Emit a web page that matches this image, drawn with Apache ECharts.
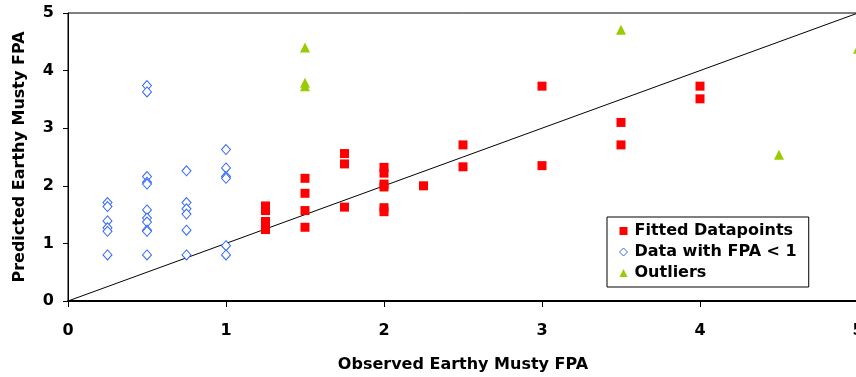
<!DOCTYPE html>
<html>
<head>
<meta charset="utf-8">
<script src="https://cdn.jsdelivr.net/npm/echarts@6/dist/echarts.min.js"></script>
<style>
  html, body { margin: 0; padding: 0; background: #ffffff; }
  #chart { width: 856px; height: 377px; }
</style>
</head>
<body>
<div id="chart"></div>
<script>
// observed / predicted pairs
const fittedX = [1.25, 1.25, 1.25, 1.25, 1.5, 1.5, 1.5, 1.5, 1.75, 1.75, 1.75,
  2, 2, 2, 2, 2, 2, 2.25, 2.5, 2.5, 3, 3, 3.5, 3.5, 4, 4];
const fittedY = [1.65, 1.57, 1.38, 1.24, 2.13, 1.87, 1.57, 1.28, 2.56, 2.38, 1.63,
  2.32, 2.22, 2.03, 1.98, 1.62, 1.55, 2.0, 2.71, 2.33, 3.73, 2.35, 3.10, 2.71, 3.73, 3.51];

const lowX = [0.25, 0.25, 0.25, 0.25, 0.25, 0.25,
  0.5, 0.5, 0.5, 0.5, 0.5, 0.5, 0.5, 0.5, 0.5, 0.5, 0.5,
  0.75, 0.75, 0.75, 0.75, 0.75, 0.75,
  1, 1, 1, 1, 1, 1];
const lowY = [1.71, 1.64, 1.39, 1.27, 1.21, 0.80,
  3.74, 3.63, 2.16, 2.06, 2.03, 1.58, 1.44, 1.37, 1.23, 1.21, 0.80,
  2.26, 1.71, 1.60, 1.51, 1.23, 0.80,
  2.63, 2.31, 2.16, 2.13, 0.96, 0.80];

const outlierX = [1.5, 1.5, 1.5, 3.5, 4.5, 5];
const outlierY = [4.40, 3.79, 3.73, 4.71, 2.54, 4.38];

const diagX = [0, 5];
const diagY = [0, 5];

const FONT = 'DejaVu Sans';
const zip = (xs, ys) => xs.map((x, i) => [x, ys[i]]);

const chart = echarts.init(document.getElementById('chart'));

chart.setOption({
  animation: false,
  backgroundColor: '#ffffff',
  grid: {
    left: 68,
    right: -2,
    top: 13,
    bottom: 76,
    containLabel: false,
    outerBoundsMode: 'none',
    show: true,
    borderColor: '#000000',
    borderWidth: 1,
    backgroundColor: 'transparent',
  },
  legend: {
    orient: 'vertical',
    left: 607,
    top: 217,
    padding: [6, 12, 6, 12],
    itemGap: 5,
    itemWidth: 8,
    itemHeight: 8,
    backgroundColor: '#ffffff',
    borderColor: '#000000',
    borderWidth: 1,
    borderRadius: 0,
    textStyle: {
      fontFamily: FONT,
      fontWeight: 'bold',
      fontSize: 16,
      color: '#000000',
      padding: [0, 0, 0, 2],
    },
    data: [
      { name: 'Fitted Datapoints', icon: 'rect' },
      {
        name: 'Data with FPA < 1',
        icon: 'diamond',
        itemStyle: { color: '#ffffff', borderColor: '#3366ff', borderWidth: 1 },
      },
      { name: 'Outliers', icon: 'triangle' },
    ],
  },
  xAxis: {
    type: 'value',
    min: 0,
    max: 5,
    interval: 1,
    name: 'Observed Earthy Musty FPA',
    nameLocation: 'middle',
    nameGap: 56,
    nameTextStyle: { fontFamily: FONT, fontWeight: 'bold', fontSize: 16, color: '#000000' },
    axisLine: { show: true, onZero: false, lineStyle: { color: '#000000', width: 2 } },
    axisTick: { show: true, inside: false, length: 6, lineStyle: { color: '#000000' } },
    axisLabel: {
      margin: 22,
      fontFamily: FONT,
      fontWeight: 'bold',
      fontSize: 16,
      color: '#000000',
      showMaxLabel: true,
    },
    splitLine: { show: false },
  },
  yAxis: {
    type: 'value',
    min: 0,
    max: 5,
    interval: 1,
    name: 'Predicted Earthy Musty FPA',
    nameLocation: 'middle',
    nameGap: 40,
    nameRotate: 90,
    nameTextStyle: { fontFamily: FONT, fontWeight: 'bold', fontSize: 16, color: '#000000' },
    axisLine: { show: true, onZero: false, lineStyle: { color: '#000000', width: 1 } },
    axisTick: { show: true, inside: false, length: 5, lineStyle: { color: '#000000' } },
    axisLabel: {
      margin: 14,
      fontFamily: FONT,
      fontWeight: 'bold',
      fontSize: 16,
      color: '#000000',
    },
    splitLine: { show: false },
  },
  series: [
    {
      name: 'diagonal',
      type: 'line',
      data: zip(diagX, diagY),
      symbol: 'none',
      silent: true,
      lineStyle: { color: '#000000', width: 1 },
      z: 1,
    },
    {
      name: 'Data with FPA < 1',
      type: 'scatter',
      data: zip(lowX, lowY),
      symbol: 'diamond',
      symbolSize: [9, 10],
      itemStyle: { color: '#ffffff', borderColor: '#3366ff', borderWidth: 1, opacity: 1 },
      z: 3,
    },
    {
      name: 'Fitted Datapoints',
      type: 'scatter',
      data: zip(fittedX, fittedY),
      symbol: 'rect',
      symbolSize: 9,
      itemStyle: { color: '#ff0000', opacity: 1 },
      z: 4,
    },
    {
      name: 'Outliers',
      type: 'scatter',
      data: zip(outlierX, outlierY),
      symbol: 'triangle',
      symbolSize: [10, 10],
      clip: false,
      itemStyle: { color: '#99cc00', opacity: 1 },
      z: 5,
    },
  ],
});
</script>
</body>
</html>
